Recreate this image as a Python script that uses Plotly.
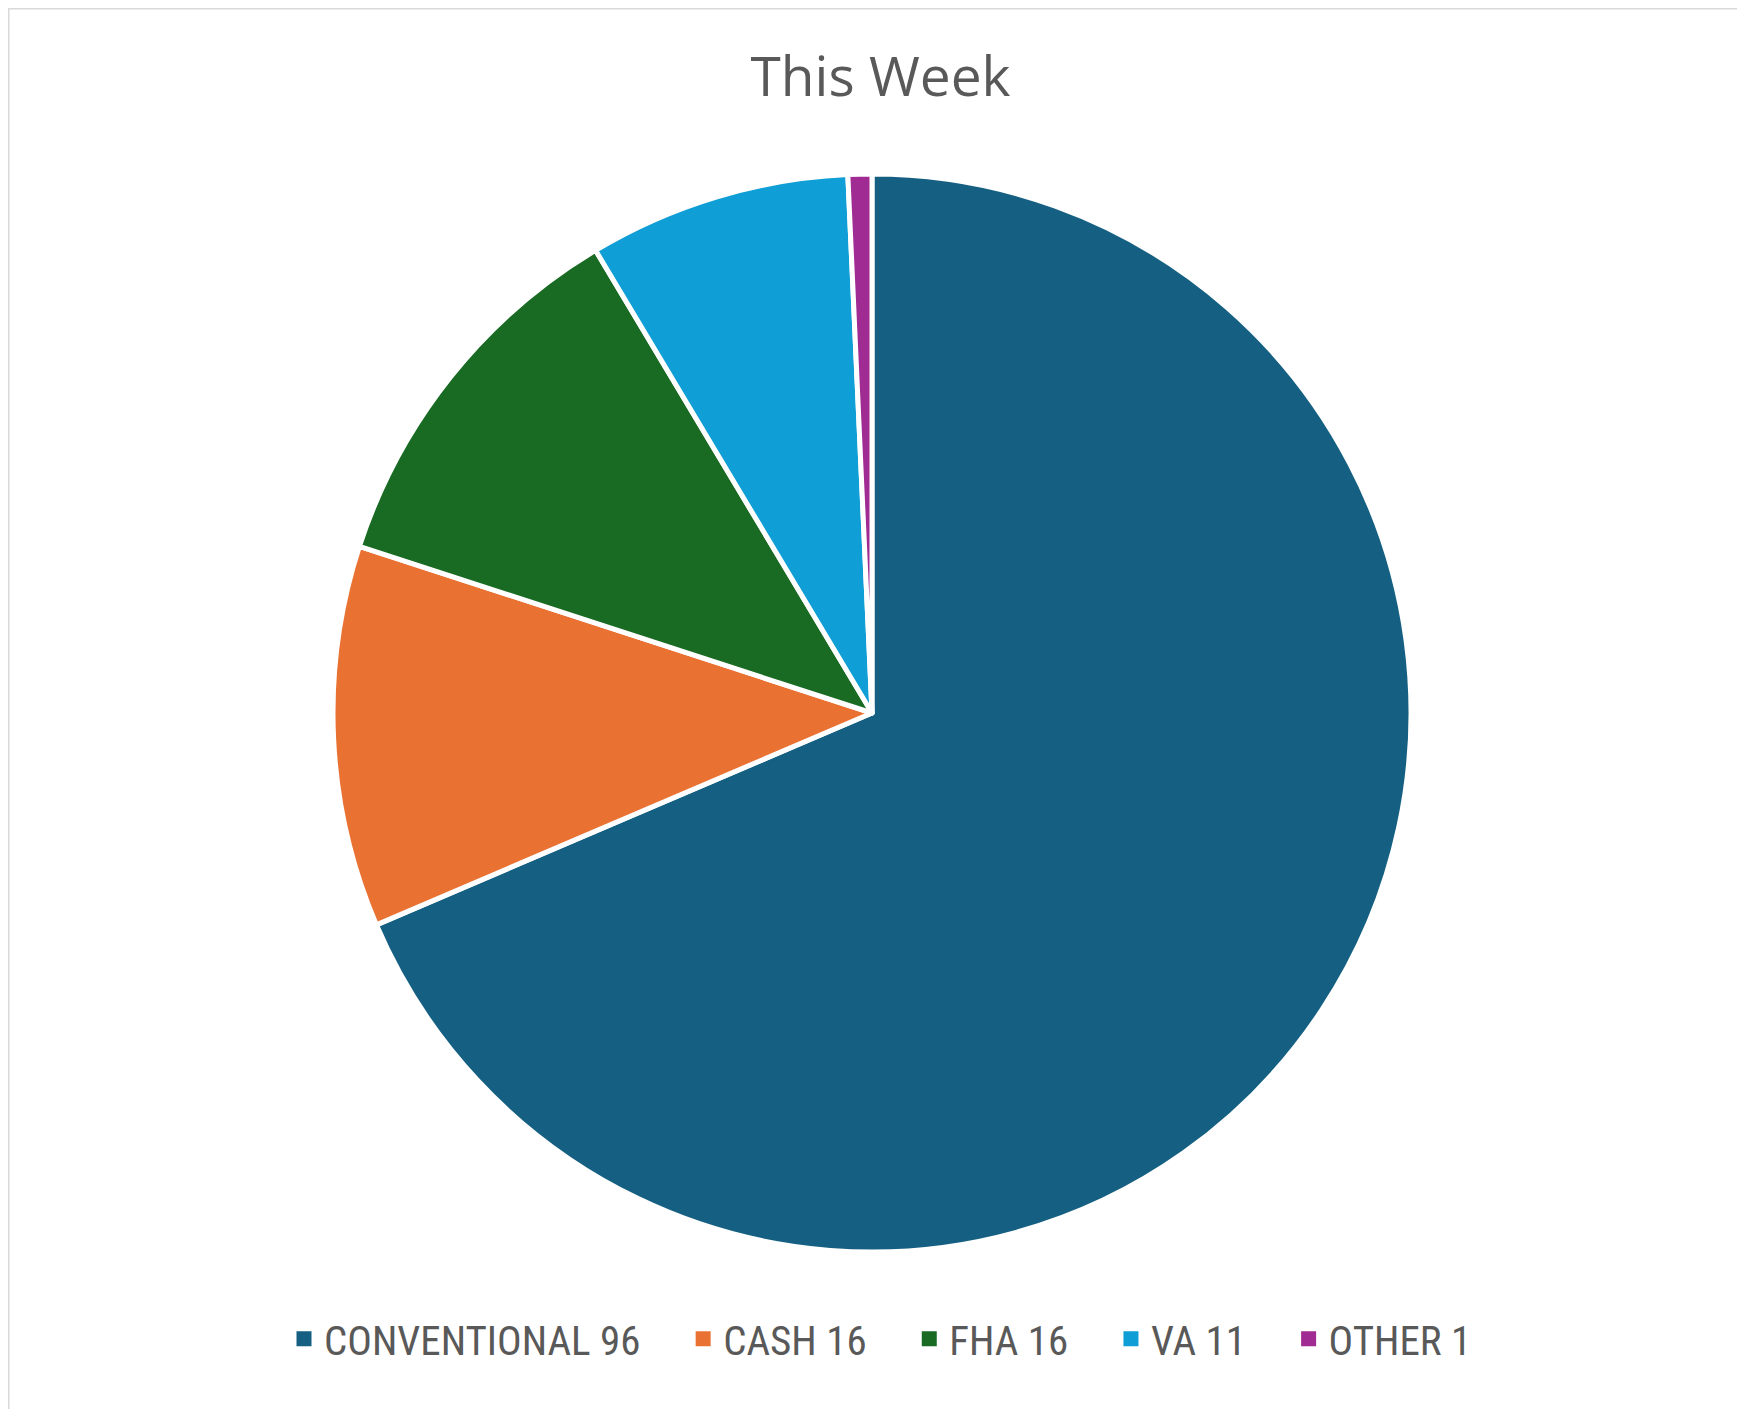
import plotly.graph_objects as go

categories = ["CONVENTIONAL", "CASH", "FHA", "VA", "OTHER"]
values = [96, 16, 16, 11, 1]
colors = ["#156082", "#E97132", "#196B24", "#0F9ED5", "#A02B93"]

NB = "\u00a0"
labels = []
for i, (c, v) in enumerate(zip(categories, values)):
    pad = NB * 4 if i < len(categories) - 1 else ""
    labels.append(f"{c} {v}{pad}")

W, H = 1745, 1409
cx, cy, r = 864, 705, 539

fig = go.Figure(go.Pie(
    labels=labels,
    values=values,
    marker=dict(colors=colors, line=dict(color="white", width=5)),
    sort=False,
    direction="clockwise",
    rotation=0,
    textinfo="none",
    showlegend=False,
    domain=dict(x=[(cx - r) / W, (cx + r) / W], y=[1 - (cy + r) / H, 1 - (cy - r) / H]),
))

# legend entries (square swatches) matching the pie slices
for lab, col in zip(labels, colors):
    fig.add_trace(go.Scatter(x=[None], y=[None], mode="markers", name=lab,
                             marker=dict(symbol="square", size=15, color=col),
                             hoverinfo="skip", showlegend=True))

fig.update_layout(
    width=W, height=H,
    margin=dict(l=0, r=0, t=0, b=0),
    paper_bgcolor="white",
    plot_bgcolor="white",
    xaxis=dict(visible=False),
    yaxis=dict(visible=False),
    title=dict(text="This Week", x=0.5, xanchor="center", y=1 - 69 / H, yanchor="middle",
               yref="container",
               font=dict(family="Open Sans, Roboto, sans-serif", size=55, color="#595959")),
    legend=dict(orientation="h", x=0.5, xanchor="center", y=1 - 1331 / H, yanchor="middle",
                font=dict(family="Roboto Condensed, Liberation Sans Narrow, Roboto, sans-serif",
                          size=41, color="#595959")),
    shapes=[dict(type="rect", xref="paper", yref="paper", x0=0, y0=0, x1=1, y1=1,
                 line=dict(color="#D9D9D9", width=3), fillcolor="rgba(0,0,0,0)")],
)

fig.write_html("out.html")
